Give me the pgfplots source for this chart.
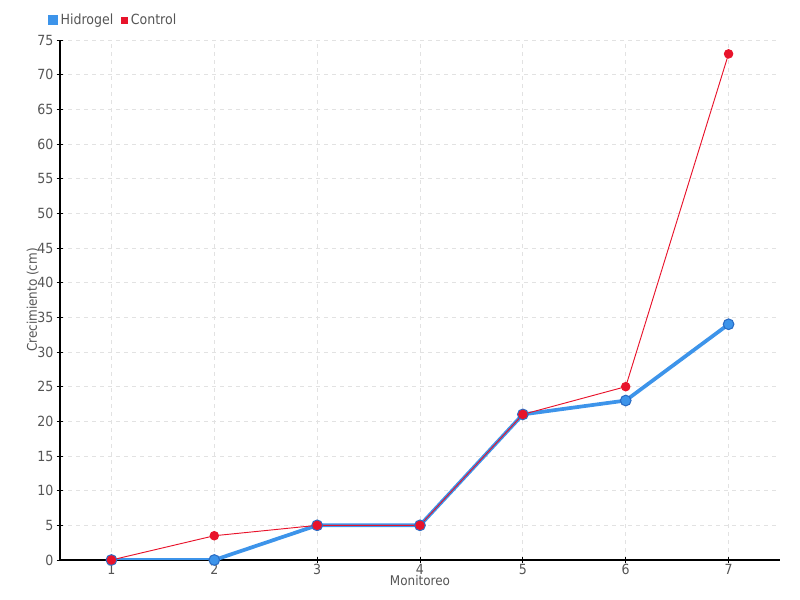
\documentclass[border=0pt]{standalone}
\usepackage{pgfplots}
\pgfplotsset{compat=1.18}
\usepackage{fontspec}
\setmainfont{DejaVu Sans Condensed}
\definecolor{txt}{HTML}{555555}
\definecolor{hblue}{HTML}{3D94EA}
\definecolor{hblued}{HTML}{2A6CC4}
\definecolor{cred}{HTML}{E8132B}
\definecolor{gridc}{HTML}{E2E2E2}
\begin{document}
\begin{tikzpicture}[x=1pt,y=1pt]
\useasboundingbox (0,0) rectangle (600,450);
\begin{axis}[
  at={(45pt,30pt)}, anchor=south west,
  scale only axis, width=540pt, height=390pt,
  xmin=0.5, xmax=7.5, ymin=0, ymax=75,
  xtick={1,...,7}, ytick={0,5,...,75},
  axis x line*=bottom, axis y line*=left,
  axis line style={black, line width=0.8pt, -},
  tick style={black, line width=0.6pt},
  major tick length=5pt,
  xtick pos=bottom, ytick pos=left,
  tick align=center,
  grid=major,
  major grid style={gridc, dashed, line width=0.6pt},
  tick label style={font=\fontsize{10.5}{12}\selectfont, text=txt},
  /pgf/number format/assume math mode=true,
  xlabel={Monitoreo}, ylabel={Crecimiento (cm)},
  label style={font=\fontsize{10}{11}\selectfont, text=txt},
  xlabel style={at={(axis description cs:0.5,-0.0404)}, anchor=center},
  ylabel style={at={(axis description cs:-0.038,0.5)}, anchor=center},
  yticklabel style={xshift=1pt},
  xticklabel style={yshift=3pt},
  legend style={at={(0,1)}, anchor=south west, xshift=-12pt, yshift=6pt, draw=none, fill=none,
    font=\fontsize{10.5}{12}\selectfont, text=txt, legend columns=2,
    /tikz/every even column/.append style={column sep=4pt}},
  legend image code/.code={\fill[#1] (0pt,-2.2pt) rectangle (4.4pt,2.2pt);},
]
\addplot[hblue, line width=2.8pt, mark=*, mark size=4pt,
  mark options={fill=hblue, draw=hblued, line width=0.8pt}]
  coordinates {(1,0) (2,0) (3,5) (4,5) (5,21) (6,23) (7,34)};
\addlegendentry{Hidrogel}
\addplot[cred, line width=0.7pt, mark=*, mark size=3.2pt,
  mark options={fill=cred, draw=cred}]
  coordinates {(1,0) (2,3.5) (3,5) (4,5) (5,21) (6,25) (7,73)};
\addlegendentry{Control}
\end{axis}
\end{tikzpicture}
\end{document}
